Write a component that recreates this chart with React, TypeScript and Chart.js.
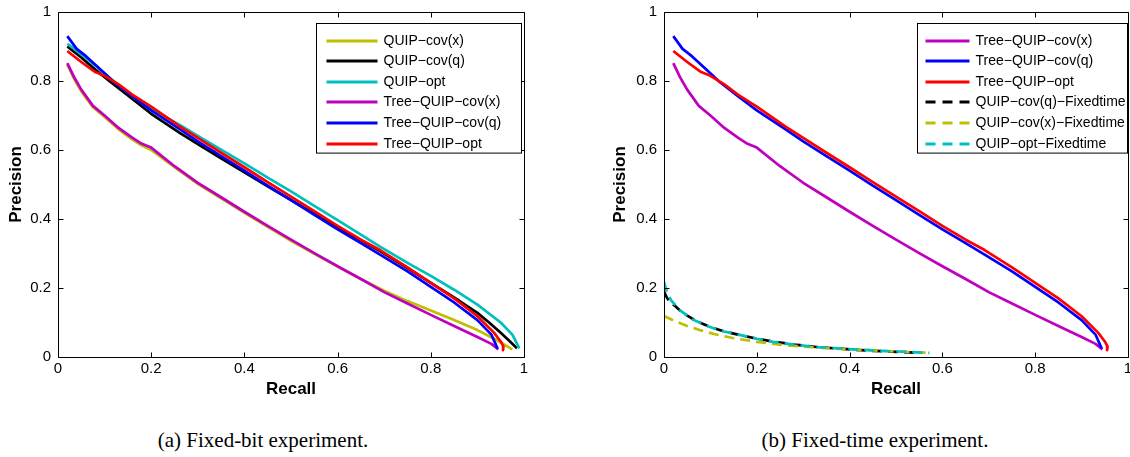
import React, { useEffect, useRef } from "react";
import { Chart, registerables } from "chart.js";

Chart.register(...registerables);

// ---------- Fixed-bit experiment (a) ----------
const quipCovXRecall = [0.02, 0.035, 0.05, 0.075, 0.1, 0.13, 0.16, 0.18, 0.2, 0.25, 0.3, 0.35, 0.4, 0.45, 0.5, 0.55, 0.6, 0.65, 0.7, 0.75, 0.8, 0.85, 0.9, 0.94, 0.975];
const quipCovXPrecision = [0.847, 0.805, 0.77, 0.724, 0.696, 0.66, 0.63, 0.613, 0.6, 0.55, 0.502, 0.46, 0.418, 0.377, 0.337, 0.299, 0.262, 0.226, 0.192, 0.162, 0.135, 0.107, 0.078, 0.05, 0.022];

const quipCovQRecall = [0.02, 0.05, 0.08, 0.11, 0.15, 0.2, 0.262, 0.3, 0.35, 0.4, 0.45, 0.5, 0.55, 0.6, 0.65, 0.691, 0.75, 0.8, 0.861, 0.9, 0.925, 0.95, 0.97, 0.985];
const quipCovQPrecision = [0.9, 0.868, 0.833, 0.8, 0.758, 0.705, 0.649, 0.617, 0.576, 0.535, 0.495, 0.455, 0.415, 0.375, 0.338, 0.307, 0.258, 0.215, 0.163, 0.128, 0.1, 0.07, 0.045, 0.025];

const quipOptRecall = [0.02, 0.05, 0.08, 0.11, 0.16, 0.2, 0.262, 0.3, 0.35, 0.4, 0.45, 0.5, 0.55, 0.6, 0.65, 0.691, 0.75, 0.8, 0.85, 0.9, 0.95, 0.975, 0.99];
const quipOptPrecision = [0.908, 0.878, 0.845, 0.81, 0.755, 0.72, 0.672, 0.641, 0.601, 0.561, 0.52, 0.48, 0.438, 0.397, 0.355, 0.32, 0.273, 0.235, 0.195, 0.152, 0.1, 0.065, 0.025];

const treeCovXRecall = [0.02, 0.035, 0.05, 0.075, 0.1, 0.13, 0.16, 0.18, 0.2, 0.25, 0.3, 0.35, 0.4, 0.45, 0.5, 0.55, 0.6, 0.65, 0.7, 0.75, 0.8, 0.85, 0.9, 0.93, 0.945];
const treeCovXPrecision = [0.852, 0.81, 0.775, 0.728, 0.7, 0.664, 0.635, 0.618, 0.607, 0.553, 0.505, 0.463, 0.421, 0.38, 0.34, 0.301, 0.263, 0.226, 0.188, 0.155, 0.122, 0.09, 0.058, 0.038, 0.022];

const treeCovQRecall = [0.02, 0.04, 0.06, 0.09, 0.12, 0.16, 0.2, 0.262, 0.3, 0.35, 0.4, 0.45, 0.5, 0.55, 0.6, 0.65, 0.691, 0.75, 0.8, 0.85, 0.9, 0.93, 0.943];
const treeCovQPrecision = [0.93, 0.893, 0.872, 0.835, 0.797, 0.755, 0.715, 0.66, 0.625, 0.582, 0.54, 0.497, 0.455, 0.412, 0.37, 0.33, 0.297, 0.248, 0.203, 0.158, 0.107, 0.065, 0.025];

const treeOptRecall = [0.02, 0.05, 0.08, 0.1, 0.13, 0.16, 0.2, 0.262, 0.3, 0.35, 0.4, 0.45, 0.5, 0.55, 0.6, 0.65, 0.691, 0.75, 0.8, 0.85, 0.9, 0.936, 0.95, 0.956, 0.955];
const treeOptPrecision = [0.887, 0.855, 0.826, 0.815, 0.79, 0.76, 0.726, 0.668, 0.635, 0.592, 0.55, 0.507, 0.465, 0.423, 0.38, 0.34, 0.31, 0.26, 0.215, 0.17, 0.118, 0.07, 0.045, 0.03, 0.02];

// ---------- Fixed-time experiment (b) ----------
const fixedCovQRecall = [0.0, 0.005, 0.012, 0.024, 0.04, 0.06, 0.077, 0.1, 0.13, 0.163, 0.2, 0.235, 0.28, 0.329, 0.4, 0.45, 0.5, 0.55];
const fixedCovQPrecision = [0.19, 0.175, 0.16, 0.148, 0.128, 0.112, 0.1, 0.087, 0.074, 0.064, 0.053, 0.045, 0.036, 0.029, 0.022, 0.018, 0.015, 0.012];

const fixedCovXRecall = [0.0, 0.02, 0.05, 0.077, 0.11, 0.148, 0.2, 0.256, 0.3, 0.35, 0.4, 0.45, 0.5, 0.575];
const fixedCovXPrecision = [0.119, 0.106, 0.09, 0.078, 0.066, 0.055, 0.044, 0.035, 0.03, 0.026, 0.022, 0.019, 0.016, 0.012];

const fixedOptRecall = [0.0, 0.006, 0.015, 0.034, 0.06, 0.099, 0.13, 0.163, 0.2, 0.235, 0.28, 0.329, 0.4, 0.45, 0.5, 0.572];
const fixedOptPrecision = [0.217, 0.19, 0.165, 0.136, 0.11, 0.087, 0.074, 0.064, 0.053, 0.044, 0.036, 0.029, 0.023, 0.019, 0.016, 0.012];

const axisTicks = [0, 0.2, 0.4, 0.6, 0.8, 1];
const axisTickLabels = ["0", "0.2", "0.4", "0.6", "0.8", "1"];

const YELLOW = "#BFBF00";
const CYAN = "#00BFBF";
const MAGENTA = "#BF00BF";
const BLUE = "#0000FF";
const RED = "#FF0000";
const BLACK = "#000000";

const SANS = "'Liberation Sans', Arial, Helvetica, sans-serif";
const SERIF = "'Liberation Serif', 'Times New Roman', serif";

type Series = { label: string; r: number[]; p: number[]; color: string; dashed?: boolean };

const seriesA: Series[] = [
  { label: "QUIP\u2212cov(x)", r: quipCovXRecall, p: quipCovXPrecision, color: YELLOW },
  { label: "QUIP\u2212cov(q)", r: quipCovQRecall, p: quipCovQPrecision, color: BLACK },
  { label: "QUIP\u2212opt", r: quipOptRecall, p: quipOptPrecision, color: CYAN },
  { label: "Tree\u2212QUIP\u2212cov(x)", r: treeCovXRecall, p: treeCovXPrecision, color: MAGENTA },
  { label: "Tree\u2212QUIP\u2212cov(q)", r: treeCovQRecall, p: treeCovQPrecision, color: BLUE },
  { label: "Tree\u2212QUIP\u2212opt", r: treeOptRecall, p: treeOptPrecision, color: RED },
];

const seriesB: Series[] = [
  { label: "Tree\u2212QUIP\u2212cov(x)", r: treeCovXRecall, p: treeCovXPrecision, color: MAGENTA },
  { label: "Tree\u2212QUIP\u2212cov(q)", r: treeCovQRecall, p: treeCovQPrecision, color: BLUE },
  { label: "Tree\u2212QUIP\u2212opt", r: treeOptRecall, p: treeOptPrecision, color: RED },
  { label: "QUIP\u2212cov(q)\u2212Fixedtime", r: fixedCovQRecall, p: fixedCovQPrecision, color: BLACK, dashed: true },
  { label: "QUIP\u2212cov(x)\u2212Fixedtime", r: fixedCovXRecall, p: fixedCovXPrecision, color: YELLOW, dashed: true },
  { label: "QUIP\u2212opt\u2212Fixedtime", r: fixedOptRecall, p: fixedOptPrecision, color: CYAN, dashed: true },
];

const DASH = [10, 6];

const tickLabel = (v: any) => {
  const i = axisTicks.findIndex((t) => Math.abs(t - Number(v)) < 1e-9);
  return i >= 0 ? axisTickLabels[i] : String(v);
};

const framePlugin = {
  id: "matlabFrame",
  afterDatasetsDraw(chart: any) {
    const { ctx, chartArea, scales } = chart;
    const left = Math.round(chartArea.left) + 0.5;
    const right = Math.round(chartArea.right) + 0.5;
    const top = Math.round(chartArea.top) + 0.5;
    const bottom = Math.round(chartArea.bottom) + 0.5;
    ctx.save();
    ctx.strokeStyle = "#000";
    ctx.lineWidth = 1;
    ctx.setLineDash([]);
    ctx.beginPath();
    ctx.rect(left, top, right - left, bottom - top);
    const tl = 5;
    scales.x.ticks.forEach((t: any) => {
      const px = Math.round(scales.x.getPixelForValue(t.value)) + 0.5;
      ctx.moveTo(px, bottom);
      ctx.lineTo(px, bottom - tl);
      ctx.moveTo(px, top);
      ctx.lineTo(px, top + tl);
    });
    scales.y.ticks.forEach((t: any) => {
      const py = Math.round(scales.y.getPixelForValue(t.value)) + 0.5;
      ctx.moveTo(left, py);
      ctx.lineTo(left + tl, py);
      ctx.moveTo(right, py);
      ctx.lineTo(right - tl, py);
    });
    ctx.stroke();
    ctx.restore();
  },
};

const boxLegendPlugin = {
  id: "boxLegend",
  afterDraw(chart: any, _args: any, opts: any) {
    const { ctx, chartArea } = chart;
    const right = Math.round(chartArea.right) - opts.offsetRight + 0.5;
    const left = right - opts.width;
    const top = Math.round(chartArea.top) + opts.offsetTop + 0.5;
    const datasets = chart.data.datasets;
    const height = opts.rowHeight * datasets.length + opts.extraHeight;
    ctx.save();
    ctx.fillStyle = "#fff";
    ctx.fillRect(left, top, opts.width, height);
    ctx.strokeStyle = "#000";
    ctx.lineWidth = 1;
    ctx.setLineDash([]);
    ctx.strokeRect(left, top, opts.width, height);
    ctx.font = `14px ${SANS}`;
    ctx.textBaseline = "middle";
    ctx.textAlign = "left";
    datasets.forEach((ds: any, i: number) => {
      const y = Math.round(top + opts.firstRow + i * opts.rowHeight);
      ctx.beginPath();
      ctx.strokeStyle = ds.borderColor;
      ctx.lineWidth = 3;
      ctx.setLineDash(ds.borderDash && ds.borderDash.length ? opts.legendDash : []);
      ctx.moveTo(left + opts.sampleStart, y);
      ctx.lineTo(left + opts.sampleStart + opts.sampleLength, y);
      ctx.stroke();
      ctx.fillStyle = "#000";
      ctx.fillText(ds.label, left + opts.textX, y + 0.5);
    });
    ctx.restore();
  },
};

type PanelProps = {
  series: Series[];
  x: number;
  width: number;
  height: number;
  yAxisWidth: number;
  padRight: number;
  legend: any;
};

function Panel({ series, x, width, height, yAxisWidth, padRight, legend }: PanelProps) {
  const ref = useRef<HTMLCanvasElement>(null);
  useEffect(() => {
    if (!ref.current) return;
    const n = series.length;
    const chart = new Chart(ref.current, {
      type: "line",
      data: {
        datasets: series.map((s, i) => ({
          label: s.label,
          data: s.r.map((rv, k) => ({ x: rv, y: s.p[k] })),
          borderColor: s.color,
          backgroundColor: s.color,
          borderWidth: 2.7,
          borderDash: s.dashed ? DASH : [],
          borderCapStyle: "butt",
          borderJoinStyle: "round",
          pointRadius: 0,
          pointHoverRadius: 0,
          tension: 0,
          fill: false,
          order: n - i,
        })),
      },
      options: {
        responsive: false,
        animation: false,
        devicePixelRatio: 1,
        events: [],
        layout: { padding: { top: 12, right: padRight, left: 0, bottom: 0 } },
        plugins: {
          legend: { display: false },
          tooltip: { enabled: false },
          boxLegend: legend,
        } as any,
        scales: {
          x: {
            type: "linear",
            min: 0,
            max: 1,
            afterBuildTicks: (s: any) => {
              s.ticks = axisTicks.map((v) => ({ value: v }));
            },
            ticks: {
              color: "#000",
              font: { family: SANS, size: 15 },
              padding: 3,
              maxRotation: 0,
              autoSkip: false,
              callback: tickLabel,
            },
            grid: { display: false, drawTicks: false },
            border: { display: false },
            title: {
              display: true,
              text: "Recall",
              color: "#000",
              font: { family: SANS, size: 17, weight: "bold" },
              padding: { top: 0, bottom: 0 },
            },
            afterFit: (s: any) => {
              s.height = height - 357;
              s.paddingLeft = 0;
              s.paddingRight = 0;
            },
          },
          y: {
            type: "linear",
            min: 0,
            max: 1,
            afterBuildTicks: (s: any) => {
              s.ticks = axisTicks.map((v) => ({ value: v }));
            },
            ticks: {
              color: "#000",
              font: { family: SANS, size: 15 },
              padding: 7,
              autoSkip: false,
              callback: tickLabel,
            },
            grid: { display: false, drawTicks: false },
            border: { display: false },
            title: {
              display: true,
              text: "Precision",
              color: "#000",
              font: { family: SANS, size: 17, weight: "bold" },
              padding: { top: 6, bottom: 0 },
            },
            afterFit: (s: any) => {
              s.width = yAxisWidth;
              s.paddingTop = 0;
              s.paddingBottom = 0;
            },
          },
        },
      } as any,
      plugins: [framePlugin, boxLegendPlugin],
    });
    return () => chart.destroy();
  }, []);
  return (
    <canvas
      ref={ref}
      width={width}
      height={height}
      style={{ position: "absolute", left: x, top: 0, width, height }}
    />
  );
}

const captionStyle = (center: number): React.CSSProperties => ({
  position: "absolute",
  left: center - 200,
  width: 400,
  top: 428,
  lineHeight: "24px",
  fontSize: 21,
  fontFamily: SERIF,
  textAlign: "center",
  color: "#000",
  whiteSpace: "nowrap",
});

export default function App() {
  return (
    <div style={{ position: "absolute", left: 0, top: 0, width: 1130, height: 457, background: "#fff", overflow: "hidden" }}>
      <Panel
        series={seriesA}
        x={0}
        width={560}
        height={400}
        yAxisWidth={58}
        padRight={36}
        legend={{ offsetRight: 3, width: 205, offsetTop: 11, rowHeight: 20.6, extraHeight: 6, firstRow: 17, sampleStart: 10, sampleLength: 51, textX: 67, legendDash: [10, 8] }}
      />
      <Panel
        series={seriesB}
        x={604}
        width={526}
        height={400}
        yAxisWidth={60}
        padRight={2}
        legend={{ offsetRight: 1, width: 210, offsetTop: 11, rowHeight: 20.6, extraHeight: 6, firstRow: 17, sampleStart: 8, sampleLength: 44, textX: 58, legendDash: [10, 7] }}
      />
      <div style={captionStyle(263)}>(a) Fixed-bit experiment.</div>
      <div style={captionStyle(875)}>(b) Fixed-time experiment.</div>
    </div>
  );
}
